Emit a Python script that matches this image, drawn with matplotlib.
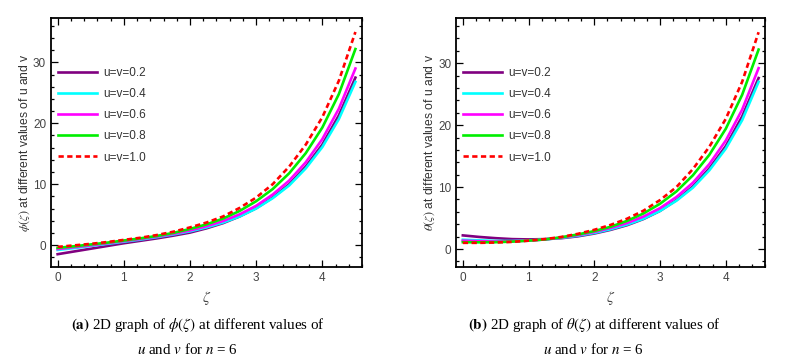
import numpy as np
import matplotlib
matplotlib.use("Agg")
import matplotlib.pyplot as plt
from matplotlib.ticker import MultipleLocator

plt.rcParams['mathtext.fontset'] = 'stix'
plt.rcParams['font.family'] = ['Liberation Sans', 'DejaVu Sans']

zeta = [0, 0.25, 0.5, 0.75, 1, 1.25, 1.5, 1.75, 2, 2.25, 2.5, 2.75, 3,
        3.25, 3.5, 3.75, 4, 4.25, 4.5]
labels = ["u=v=0.2", "u=v=0.4", "u=v=0.6", "u=v=0.8", "u=v=1.0"]

# phi(zeta)
phi_02 = [-1.5, -1.05, -0.6, -0.15, 0.3, 0.7, 1.1, 1.55, 2.05, 2.75, 3.6, 4.7, 6.05, 7.8, 10.0, 12.9, 16.5, 21.3, 27.5]
phi_04 = [-0.8, -0.5, -0.15, 0.2, 0.55, 0.9, 1.3, 1.75, 2.25, 2.9, 3.7, 4.7, 6.0, 7.7, 9.8, 12.6, 16.1, 20.7, 26.8]
phi_06 = [-0.65, -0.35, -0.05, 0.3, 0.65, 1.0, 1.4, 1.85, 2.4, 3.1, 3.95, 5.05, 6.45, 8.3, 10.6, 13.6, 17.4, 22.4, 29.0]
phi_08 = [-0.45, -0.2, 0.1, 0.4, 0.75, 1.1, 1.5, 2.0, 2.65, 3.4, 4.35, 5.6, 7.2, 9.2, 11.8, 15.1, 19.3, 24.8, 32.2]
phi_10 = [-0.3, -0.05, 0.2, 0.5, 0.85, 1.2, 1.65, 2.2, 2.9, 3.7, 4.7, 6.1, 7.8, 10.0, 12.9, 16.5, 21.0, 27.0, 35.0]

# theta(zeta)
theta_02 = [2.2, 1.95, 1.75, 1.6, 1.55, 1.6, 1.75, 2.05, 2.5, 3.1, 3.85, 4.85, 6.15, 7.9, 10.1, 13.0, 16.6, 21.4, 27.6]
theta_04 = [1.5, 1.4, 1.3, 1.3, 1.38, 1.55, 1.8, 2.15, 2.6, 3.2, 3.95, 4.9, 6.15, 7.8, 9.9, 12.7, 16.2, 20.8, 27.0]
theta_06 = [1.35, 1.25, 1.2, 1.25, 1.35, 1.55, 1.85, 2.25, 2.75, 3.4, 4.2, 5.25, 6.6, 8.4, 10.7, 13.7, 17.5, 22.5, 29.2]
theta_08 = [1.1, 1.08, 1.1, 1.2, 1.35, 1.55, 1.9, 2.35, 2.9, 3.6, 4.55, 5.75, 7.3, 9.3, 11.9, 15.2, 19.4, 24.9, 32.2]
theta_10 = [1.0, 1.0, 1.05, 1.15, 1.35, 1.6, 1.95, 2.45, 3.1, 3.9, 4.9, 6.2, 7.9, 10.0, 12.9, 16.5, 21.0, 27.0, 35.0]

colors = ["#800080", "#00ffff", "#ff00ff", "#00ee00", "#ff0000"]
styles = ["-", "-", "-", "-", (0, (2, 1.3))]

fig = plt.figure(figsize=(7.86, 3.63), dpi=100)
ax1 = fig.add_axes([0.0649, 0.2645, 0.3957, 0.686])
ax2 = fig.add_axes([0.5805, 0.2645, 0.393, 0.686])


def draw(ax, series, ylab, ylim):
    for ys, c, ls, lab in zip(series, colors, styles, labels):
        ax.plot(zeta, ys, color=c, ls=ls, lw=1.9, label=lab)
    ax.set_xlim(-0.1, 4.6)
    ax.set_ylim(*ylim)
    ax.xaxis.set_major_locator(MultipleLocator(1))
    ax.xaxis.set_minor_locator(MultipleLocator(0.2))
    ax.yaxis.set_major_locator(MultipleLocator(10))
    ax.yaxis.set_minor_locator(MultipleLocator(2))
    ax.tick_params(which="both", direction="in", top=True, right=True,
                   labelsize=8.5, labelcolor="#444444", width=0.9)
    ax.tick_params(which="major", length=5)
    ax.tick_params(which="minor", length=2.5)
    for s in ax.spines.values():
        s.set_linewidth(1.3)
    ax.set_xlabel(r"$\zeta$", fontsize=11, color="#444444", labelpad=4)
    ax.set_ylabel(ylab, fontsize=8.7, color="#333333", labelpad=1)
    ax.legend(loc="upper left", bbox_to_anchor=(-0.012, 0.847), frameon=False,
              fontsize=8.5, handlelength=3.3, handletextpad=0.5,
              labelspacing=0.78, labelcolor="#333333")


draw(ax1, [phi_02, phi_04, phi_06, phi_08, phi_10],
     r"$\phi(\zeta)$ at different values of u and v", (-3.6, 37.3))
draw(ax2, [theta_02, theta_04, theta_06, theta_08, theta_10],
     r"$\theta(\zeta)$ at different values of u and v", (-2.9, 37.3))

cap = dict(ha="center", va="center", fontsize=10.8, family="Liberation Serif")
fig.text(198 / 786, 1 - 325 / 363,
         r"$\mathbf{(a)}$ 2D graph of $\phi(\zeta)$ at different values of", **cap)
fig.text(187 / 786, 1 - 350 / 363, r"$u$ and $v$ for $n$ = 6", **cap)
fig.text(594 / 786, 1 - 325 / 363,
         r"$\mathbf{(b)}$ 2D graph of $\theta(\zeta)$ at different values of", **cap)
fig.text(593 / 786, 1 - 350 / 363, r"$u$ and $v$ for $n$ = 6", **cap)

fig.savefig("out.png", dpi=100)
